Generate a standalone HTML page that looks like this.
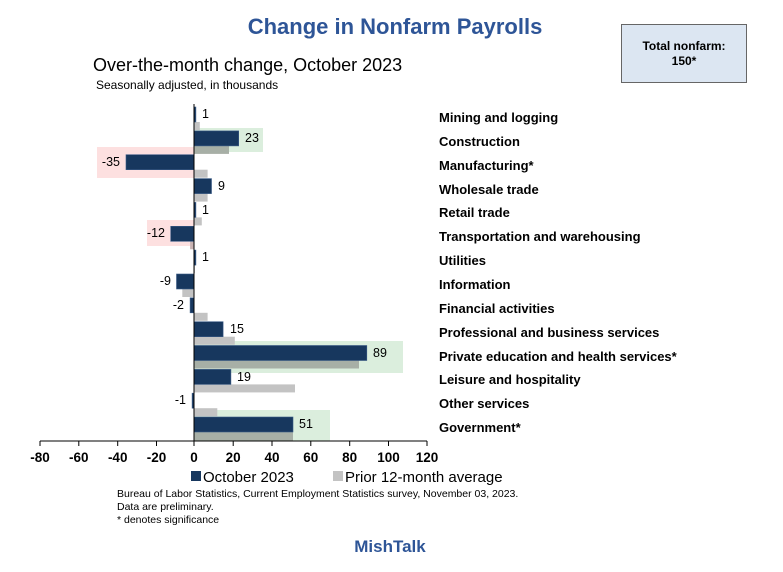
<!DOCTYPE html>
<html><head><meta charset="utf-8"><style>
html,body{margin:0;padding:0;background:#fff;}
svg{display:block;font-family:"Liberation Sans",sans-serif;}
</style></head><body>
<svg width="783" height="572" viewBox="0 0 783 572" xmlns="http://www.w3.org/2000/svg">
<text x="395" y="34" text-anchor="middle" font-size="22" font-weight="bold" fill="#2e5597">Change in Nonfarm Payrolls</text>
<text x="93" y="71" font-size="18" fill="#000">Over-the-month change, October 2023</text>
<text x="96" y="89" font-size="12" fill="#000">Seasonally adjusted, in thousands</text>
<rect x="621.5" y="24.5" width="125" height="58" fill="#dce6f2" stroke="#666" stroke-width="1"/>
<text x="684" y="50" text-anchor="middle" font-size="12" font-weight="bold">Total nonfarm:</text>
<text x="684" y="65" text-anchor="middle" font-size="12" font-weight="bold">150*</text>
<!-- highlight boxes -->
<rect x="194" y="128" width="69" height="24" fill="#dbeedd"/>
<rect x="97" y="147" width="97" height="31" fill="#fde0e0"/>
<rect x="147" y="220" width="47" height="26" fill="#fde0e0"/>
<rect x="194" y="341" width="209" height="32" fill="#dbeedd"/>
<rect x="194" y="410" width="136" height="31" fill="#dbeedd"/>
<!-- gray bars -->
<g fill="#c3c3c3">
<rect x="194" y="122" width="5.8" height="8"/>
<rect x="194" y="145.9" width="35" height="8" fill="#a7afa6"/>
<rect x="194" y="169.7" width="13.6" height="8"/>
<rect x="194" y="193.6" width="13.6" height="8"/>
<rect x="194" y="217.4" width="7.8" height="8"/>
<rect x="190.1" y="241.3" width="3.9" height="8" fill="#c9b3b3"/>
<rect x="194" y="265.1" width="1" height="8"/>
<rect x="182.3" y="289" width="11.7" height="8"/>
<rect x="194" y="312.8" width="13.6" height="8"/>
<rect x="194" y="336.7" width="40.8" height="8"/>
<rect x="194" y="360.5" width="165" height="8" fill="#a7afa6"/>
<rect x="194" y="384.4" width="101" height="8"/>
<rect x="194" y="408.2" width="23.3" height="8"/>
<rect x="194" y="432" width="99" height="9" fill="#a7afa6"/>
</g>
<!-- dark bars -->
<g fill="#17375e" stroke="#3a5a86" stroke-width="0.6">
<rect x="194" y="107" width="1.9" height="15"/>
<rect x="194" y="130.9" width="44.7" height="15"/>
<rect x="126" y="154.7" width="68" height="15"/>
<rect x="194" y="178.6" width="17.5" height="15"/>
<rect x="194" y="202.4" width="1.9" height="15"/>
<rect x="170.7" y="226.3" width="23.3" height="15"/>
<rect x="194" y="250.1" width="1.9" height="15"/>
<rect x="176.5" y="274" width="17.5" height="15"/>
<rect x="190.1" y="297.8" width="3.9" height="15"/>
<rect x="194" y="321.7" width="29.1" height="15"/>
<rect x="194" y="345.5" width="172.8" height="15"/>
<rect x="194" y="369.4" width="36.9" height="15"/>
<rect x="192.1" y="393.2" width="1.9" height="15"/>
<rect x="194" y="417" width="99" height="15"/>
</g>
<line x1="194" y1="104" x2="194" y2="441" stroke="#000" stroke-width="1"/>
<!-- value labels -->
<g font-size="12.5" fill="#000">
<text x="202" y="118">1</text>
<text x="245" y="142">23</text>
<text x="120" y="166" text-anchor="end">-35</text>
<text x="218" y="190">9</text>
<text x="202" y="214">1</text>
<text x="165" y="237" text-anchor="end">-12</text>
<text x="202" y="261">1</text>
<text x="171" y="285" text-anchor="end">-9</text>
<text x="184" y="309" text-anchor="end">-2</text>
<text x="230" y="333">15</text>
<text x="373" y="357">89</text>
<text x="237" y="381">19</text>
<text x="186" y="404" text-anchor="end">-1</text>
<text x="299" y="428">51</text>
</g>
<!-- category labels -->
<g font-size="13" font-weight="bold" fill="#000">
<text x="439" y="122">Mining and logging</text>
<text x="439" y="146">Construction</text>
<text x="439" y="170">Manufacturing*</text>
<text x="439" y="194">Wholesale trade</text>
<text x="439" y="217">Retail trade</text>
<text x="439" y="241">Transportation and warehousing</text>
<text x="439" y="265">Utilities</text>
<text x="439" y="289">Information</text>
<text x="439" y="313">Financial activities</text>
<text x="439" y="337">Professional and business services</text>
<text x="439" y="361">Private education and health services*</text>
<text x="439" y="384">Leisure and hospitality</text>
<text x="439" y="408">Other services</text>
<text x="439" y="432">Government*</text>
</g>
<!-- axis -->
<line x1="40" y1="441" x2="427" y2="441" stroke="#000" stroke-width="1"/>
<g stroke="#000" stroke-width="1">
<line x1="40" y1="441" x2="40" y2="446"/><line x1="78.8" y1="441" x2="78.8" y2="446"/>
<line x1="117.7" y1="441" x2="117.7" y2="446"/><line x1="156.5" y1="441" x2="156.5" y2="446"/>
<line x1="194" y1="441" x2="194" y2="446"/><line x1="233.2" y1="441" x2="233.2" y2="446"/>
<line x1="272" y1="441" x2="272" y2="446"/><line x1="310.8" y1="441" x2="310.8" y2="446"/>
<line x1="349.7" y1="441" x2="349.7" y2="446"/><line x1="388.5" y1="441" x2="388.5" y2="446"/>
<line x1="427" y1="441" x2="427" y2="446"/>
</g>
<g font-size="13.5" font-weight="bold" text-anchor="middle">
<text x="40" y="462">-80</text><text x="78.8" y="462">-60</text><text x="117.7" y="462">-40</text>
<text x="156.5" y="462">-20</text><text x="194" y="462">0</text><text x="233.2" y="462">20</text>
<text x="272" y="462">40</text><text x="310.8" y="462">60</text><text x="349.7" y="462">80</text>
<text x="388.5" y="462">100</text><text x="427" y="462">120</text>
</g>
<!-- legend -->
<rect x="191" y="471" width="10" height="10" fill="#17375e"/>
<text x="203" y="482" font-size="15">October 2023</text>
<rect x="333" y="471" width="10" height="10" fill="#c3c3c3"/>
<text x="345" y="482" font-size="15">Prior 12-month average</text>
<g font-size="10.5">
<text x="117" y="497">Bureau of Labor Statistics, Current Employment Statistics survey, November 03, 2023.</text>
<text x="117" y="510">Data are preliminary.</text>
<text x="117" y="523">* denotes significance</text>
</g>
<text x="390" y="552" text-anchor="middle" font-size="17" font-weight="bold" fill="#2e5597">MishTalk</text>
</svg>
</body></html>
